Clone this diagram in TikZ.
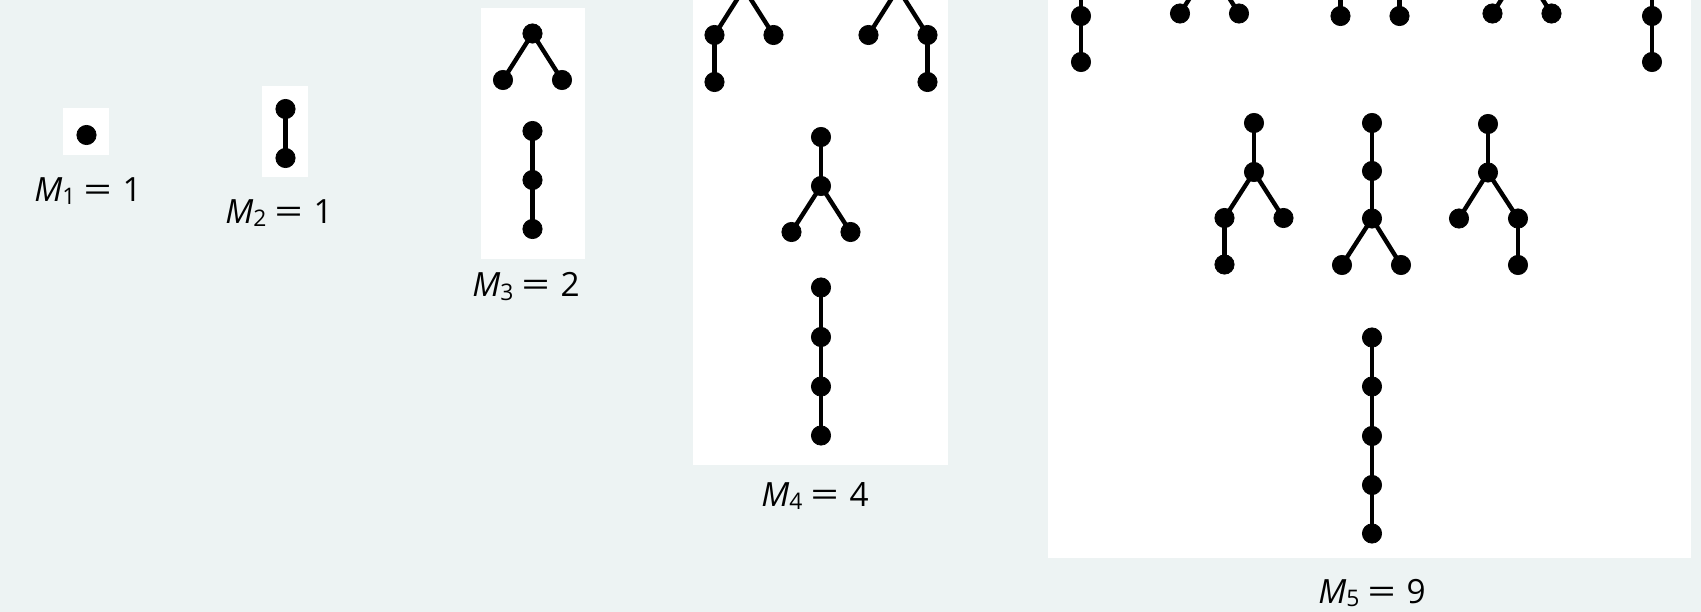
\documentclass[tikz,border=0pt]{standalone}
\usepackage{fontspec}
\setmainfont{Open Sans}
\usepackage{tkz-euclide}
\definecolor{BackClr}{RGB}{237,243,243}
\definecolor{PanelClr}{RGB}{255,255,255}
\newcommand{\mcount}[2]{{\fontsize{19}{21}\selectfont\textit{M}\raisebox{-2pt}{\fontsize{13}{13}\selectfont #1}\hspace{4.5pt}\scalebox{1.5}[1]{=}\hspace{6pt}#2}}

\begin{document}
\begin{tikzpicture}[x=0.02cm,y=-0.02cm]
\tkzSetUpLine[line width=2.5pt,color=black]
\tkzSetUpPoint[fill=black,color=black,size=11]

\useasboundingbox (0,0) rectangle (1701,612);
\fill[BackClr] (0,0) rectangle (1701,612);

% panels
\fill[PanelClr] (63,108) rectangle (109,155);
\fill[PanelClr] (262,86) rectangle (308,177);
\fill[PanelClr] (481,8) rectangle (585,259);
\fill[PanelClr] (693,-60) rectangle (948,465);
\fill[PanelClr] (1048,-130) rectangle (1691,558);

% one and two nodes
\tkzDefPoints{86.5/135/A,285.5/109/B1,285.5/158/B2}

% three nodes
\tkzDefPoints{532.5/33.5/C1,503/80/C2,562/80/C3,
  532.5/131/C4,532.5/180/C5,532.5/229/C6}

% four nodes
\tkzDefPoints{744/-11.5/D1,714.5/35/D2,773.5/35/D3,714.5/82/D4,
  898/-11.5/D5,868.5/35/D6,927.5/35/D7,927.5/82/D8,
  821/137/D9,821/186/D10,791.5/232/D11,850.5/232/D12,
  821/287.5/D13,821/337/D14,821/386.5/D15,821/435.5/D16}

% five nodes, top row
\tkzDefPoints{1110.5/-79.5/E1,1081/-33/E2,1140/-33/E3,1081/16/E4,1081/62/E5,
  1239/-79.5/E6,1209.5/-33/E7,1268.5/-33/E8,1180/13.5/E9,1239/13.5/E10,
  1370/-79.5/E11,1340.5/-33/E12,1399.5/-33/E13,1340.5/16/E14,1399.5/16/E15,
  1492.5/-79.5/E16,1463/-33/E17,1522/-33/E18,1492.5/13.5/E19,1551.5/13.5/E20,
  1622.5/-79.5/E21,1593/-33/E22,1652/-33/E23,1652/16/E24,1652/62/E25}

% five nodes, middle row and path
\tkzDefPoints{1254/123/F1,1254/172/F2,1224.5/218/F3,1283.5/218/F4,1224.5/264.5/F5,
  1372/123/G1,1372/171/G2,1372/218.5/G3,1342/265/G4,1401/265/G5,
  1488/124/H1,1488/172.5/H2,1459/218.5/H3,1518/218.5/H4,1518/265/H5,
  1372/337.5/K1,1372/386.5/K2,1372/436/K3,1372/485/K4,1372/533.5/K5}

\tkzDrawSegments(B1,B2 C1,C2 C1,C3 C4,C5 C5,C6)
\tkzDrawSegments(D1,D2 D1,D3 D2,D4 D5,D6 D5,D7 D7,D8
  D9,D10 D10,D11 D10,D12 D13,D14 D14,D15 D15,D16)
\tkzDrawSegments(E1,E2 E1,E3 E2,E4 E4,E5 E6,E7 E6,E8 E7,E9 E7,E10
  E11,E12 E11,E13 E12,E14 E13,E15 E16,E17 E16,E18 E18,E19 E18,E20
  E21,E22 E21,E23 E23,E24 E24,E25)
\tkzDrawSegments(F1,F2 F2,F3 F2,F4 F3,F5 G1,G2 G2,G3 G3,G4 G3,G5
  H1,H2 H2,H3 H2,H4 H4,H5 K1,K2 K2,K3 K3,K4 K4,K5)

\tkzDrawPoints(A,B1,B2,C1,C2,C3,C4,C5,C6)
\tkzDrawPoints(D1,D2,D3,D4,D5,D6,D7,D8,D9,D10,D11,D12,D13,D14,D15,D16)
\tkzDrawPoints(E1,E2,E3,E4,E5,E6,E7,E8,E9,E10,E11,E12,E13,
  E14,E15,E16,E17,E18,E19,E20,E21,E22,E23,E24,E25)
\tkzDrawPoints(F1,F2,F3,F4,F5,G1,G2,G3,G4,G5,H1,H2,H3,H4,H5,K1,K2,K3,K4,K5)

\node[anchor=base] (m1) at (88,201) {\mcount{1}{1}};
\node[anchor=base] (m2) at (279,223) {\mcount{2}{1}};
\node[anchor=base] (m3) at (526,296.5) {\mcount{3}{2}};
\node[anchor=base] (m4) at (815,506) {\mcount{4}{4}};
\node[anchor=base] (m5) at (1372,603) {\mcount{5}{9}};

\end{tikzpicture}
\end{document}
